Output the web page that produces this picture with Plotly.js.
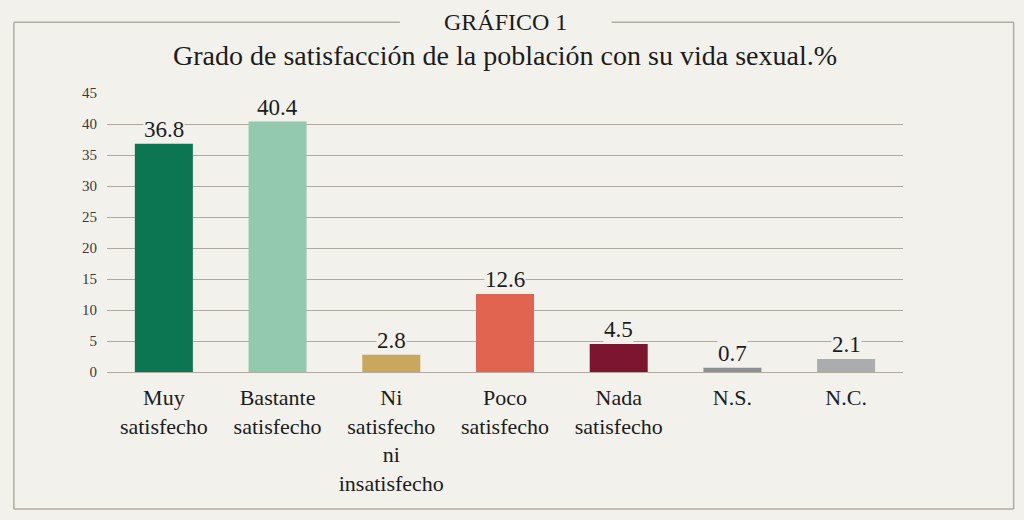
<!DOCTYPE html>
<html>
<head>
<meta charset="utf-8">
<script src="https://cdn.plot.ly/plotly-3.0.1.min.js"></script>
<style>
  html, body { margin: 0; padding: 0; background: #f2f1ec; }
  #myDiv { width: 1024px; height: 520px; }
</style>
</head>
<body>
<div id="myDiv"></div>
<script>
const graphDiv = document.getElementById('myDiv')

// data
const categories = ['Muy<br>satisfecho', 'Bastante<br>satisfecho', 'Ni<br>satisfecho<br>ni<br>insatisfecho',
                    'Poco<br>satisfecho', 'Nada<br>satisfecho', 'N.S.', 'N.C.']
const values = [36.8, 40.4, 2.8, 12.6, 4.5, 0.7, 2.1]
const barColors = ['#0c7551', '#93c9ae', '#c9a85e', '#e0644f', '#7b1530', '#8e9193', '#aaacae']
const yTicks = [0, 5, 10, 15, 20, 25, 30, 35, 40, 45]

const bg = '#f2f1ec'
const frame = '#b2ada3'
const serif = 'Liberation Serif'

const bars = {
    x: categories,
    y: values,
    type: 'bar',
    marker: {color: barColors, line: {width: 0}},
    hoverinfo: 'none',
    showlegend: false,
}

// value labels sit on a patch of background so the grid line breaks behind them
let labels = []
for (let i = 0; i < values.length; i++) {
    labels.push({
        x: categories[i],
        y: values[i],
        xref: 'x',
        yref: 'y',
        text: values[i].toFixed(1),
        showarrow: false,
        yanchor: 'bottom',
        yshift: 1,
        bgcolor: bg,
        borderpad: 0,
        font: {family: serif, size: 23, color: '#1c1c1c'},
    })
}
labels.push({
    x: 0.5, y: 1.254, xref: 'paper', yref: 'paper',
    xanchor: 'center', yanchor: 'middle',
    text: 'GRÁFICO 1', showarrow: false,
    font: {family: serif, size: 24, color: '#1c1c1c'},
})
labels.push({
    x: 0.5, y: 1.136, xref: 'paper', yref: 'paper',
    xanchor: 'center', yanchor: 'middle',
    text: 'Grado de satisfacción de la población con su vida sexual.%', showarrow: false,
    font: {family: serif, size: 28, color: '#1c1c1c'},
})

// outer frame, top edge broken around the heading
const fl = -0.117, fr = 1.139, ft = 1.254, fb = -0.491
const shapes = [
    {type: 'line', xref: 'paper', yref: 'paper', x0: fl, x1: fl, y0: fb, y1: ft, line: {color: frame, width: 1.5}},
    {type: 'line', xref: 'paper', yref: 'paper', x0: fr, x1: fr, y0: fb, y1: ft, line: {color: frame, width: 1.5}},
    {type: 'line', xref: 'paper', yref: 'paper', x0: fl, x1: fr, y0: fb, y1: fb, line: {color: frame, width: 1.5}},
    {type: 'line', xref: 'paper', yref: 'paper', x0: fl, x1: 0.368, y0: ft, y1: ft, line: {color: frame, width: 1.5}},
    {type: 'line', xref: 'paper', yref: 'paper', x0: 0.634, x1: fr, y0: ft, y1: ft, line: {color: frame, width: 1.5}},
]

const layout = {
    width: 1024,
    height: 520,
    autosize: false,
    margin: {l: 107, r: 121, t: 93, b: 148, pad: 0},
    paper_bgcolor: bg,
    plot_bgcolor: bg,
    bargap: 0.49,
    showlegend: false,
    font: {family: serif},
    xaxis: {
        type: 'category',
        showgrid: false,
        showline: false,
        zeroline: false,
        ticks: '',
        tickangle: 0,
        ticklabelstandoff: 10,
        tickfont: {family: serif, size: 22, color: '#1c1c1c'},
    },
    yaxis: {
        range: [0, 45],
        autorange: false,
        tickvals: yTicks,
        ticktext: yTicks.map(String),
        showgrid: true,
        gridcolor: '#aeaaa1',
        gridwidth: 1,
        zeroline: true,
        zerolinecolor: '#aeaaa1',
        zerolinewidth: 1,
        showline: false,
        ticks: '',
        ticklabelstandoff: 9,
        tickfont: {family: serif, size: 15, color: '#3a3a3a'},
    },
    annotations: labels,
    shapes: shapes,
}

const config = {displayModeBar: false, staticPlot: true}
Plotly.newPlot(graphDiv, [bars], layout, config)
</script>
</body>
</html>
